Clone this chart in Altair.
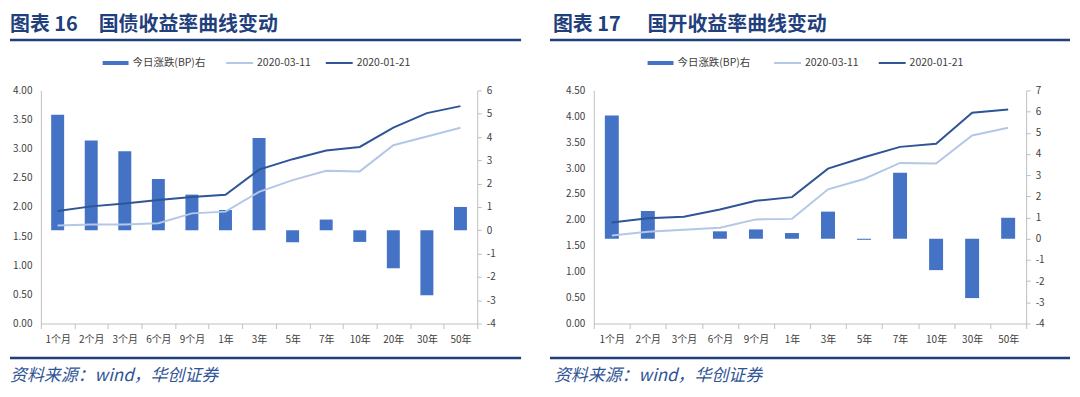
import altair as alt
import pandas as pd

# ---------------- data ----------------
cats1 = ["1个月", "2个月", "3个月", "6个月", "9个月", "1年", "3年", "5年", "7年", "10年", "20年", "30年", "50年"]
chg1 = [4.96, 3.85, 3.39, 2.20, 1.53, 0.87, 3.96, -0.51, 0.46, -0.50, -1.63, -2.79, 1.00]
y0311_1 = [1.68, 1.70, 1.70, 1.72, 1.89, 1.92, 2.26, 2.46, 2.62, 2.61, 3.06, 3.21, 3.36]
y0121_1 = [1.93, 2.01, 2.06, 2.12, 2.17, 2.21, 2.64, 2.82, 2.97, 3.03, 3.36, 3.61, 3.73]

cats2 = ["1个月", "2个月", "3个月", "6个月", "9个月", "1年", "3年", "5年", "7年", "10年", "30年", "50年"]
chg2 = [5.82, 1.31, 0.0, 0.35, 0.44, 0.27, 1.28, -0.05, 3.12, -1.48, -2.80, 0.99]
y0311_2 = [1.70, 1.77, 1.81, 1.85, 2.01, 2.02, 2.59, 2.79, 3.10, 3.09, 3.63, 3.78]
y0121_2 = [1.95, 2.03, 2.06, 2.20, 2.37, 2.44, 2.99, 3.21, 3.41, 3.47, 4.07, 4.13]

left_ticks1 = [0, 0.5, 1, 1.5, 2, 2.5, 3, 3.5, 4]
right_ticks1 = [-4, -3, -2, -1, 0, 1, 2, 3, 4, 5, 6]
left_ticks2 = [0, 0.5, 1, 1.5, 2, 2.5, 3, 3.5, 4, 4.5]
right_ticks2 = [-4, -3, -2, -1, 0, 1, 2, 3, 4, 5, 6, 7]

series_names = ["今日涨跌(BP)右", "2020-03-11", "2020-01-21"]
source_text = "资料来源：wind，华创证券"

FONT = "Noto Sans CJK SC"
BAR = "#4472C4"
DARK = "#2F5597"
LIGHT = "#B4C7E7"
NAVY = "#1F3F7D"
LBL = "#404040"
AXC = "#BFBFBF"

one = pd.DataFrame({"a": [0]})


def deco_text(txt, x, y, size, color, weight="normal", style="normal"):
    return alt.Chart(one).mark_text(
        text=txt, font=FONT, fontSize=size, fontWeight=weight, fontStyle=style,
        color=color, align="left", baseline="middle"
    ).encode(x=alt.value(x), y=alt.value(y))


def deco_rule(x1, x2, y, color, width):
    return alt.Chart(one).mark_rule(color=color, strokeWidth=width).encode(
        x=alt.value(x1), x2=alt.value(x2), y=alt.value(y))


def panel(cats, chg, s0311, s0121, ldom, lticks, rdom, rticks, W, barw,
          t_no, t_no_x, t_txt, t_txt_x, rule_x1, rule_x2, leg, src_x):
    n = len(cats)
    bars_df = pd.DataFrame({"cat": cats, "chg": chg})
    lines_df = pd.DataFrame({
        "cat": cats + cats,
        "series": [series_names[1]] * n + [series_names[2]] * n,
        "v": s0311 + s0121,
    })
    xenc = alt.X("cat:N", sort=cats, title=None,
                 scale=alt.Scale(paddingInner=0, paddingOuter=0),
                 axis=alt.Axis(labelAngle=0, tickBand="extent", tickSize=5,
                               labelPadding=6, labelFont=FONT, labelFontSize=10,
                               labelColor=LBL, domainColor=AXC, tickColor=AXC,
                               grid=False))
    bars = alt.Chart(bars_df).mark_bar(size=barw, color=BAR).encode(
        x=xenc,
        y=alt.Y("chg:Q", title=None,
                scale=alt.Scale(domain=rdom, nice=False, zero=False),
                axis=alt.Axis(orient="right", values=rticks,
                              labelExpr="'' + datum.value",
                              tickSize=4, labelPadding=5, labelFont=FONT,
                              labelFontSize=10, labelColor=LBL, domainColor=AXC,
                              tickColor=AXC, grid=False)),
    )
    lines = alt.Chart(lines_df).mark_line(strokeWidth=2).encode(
        x=xenc,
        y=alt.Y("v:Q", title=None,
                scale=alt.Scale(domain=ldom, nice=False),
                axis=alt.Axis(orient="left", values=lticks, format=".2f",
                              ticks=False, labelPadding=9, labelFont=FONT,
                              labelFontSize=10, labelColor=LBL, domainColor=AXC,
                              grid=False)),
        color=alt.Color("series:N",
                        scale=alt.Scale(domain=series_names[1:], range=[LIGHT, DARK]),
                        legend=None),
    )
    decos = [
        # invisible anchor for top/left bounds
        deco_rule(rule_x1, rule_x1 + 1, -81.5, "#FFFFFF", 1),
        deco_text(t_no, t_no_x, -66, 20, NAVY, weight="bold"),
        deco_text(t_txt, t_txt_x, -66, 20, NAVY, weight="bold"),
        deco_rule(rule_x1, rule_x2, -50.5, NAVY, 2.5),
        # legend
        deco_rule(leg[0], leg[0] + 26, -27.5, BAR, 4),
        deco_text(series_names[0], leg[0] + 30, -27.5, 10.5, LBL),
        deco_rule(leg[1], leg[1] + 27, -27.5, LIGHT, 2),
        deco_text(series_names[1], leg[1] + 31, -27.5, 10.5, LBL),
        deco_rule(leg[2], leg[2] + 27, -27.5, DARK, 2),
        deco_text(series_names[2], leg[2] + 31, -27.5, 10.5, LBL),
        # bottom rule and source
        deco_rule(rule_x1, rule_x2, 268.5, NAVY, 2.5),
        deco_text(source_text, src_x, 286.5, 17, "#2F5597", style="italic"),
    ]
    return alt.layer(bars, lines, *decos).resolve_scale(y="independent").properties(
        width=W, height=234)


p1 = panel(cats1, chg1, y0311_1, y0121_1, [0, 4], left_ticks1, [-4, 6], right_ticks1,
           438, 13, "图表 16", -31, "国债收益率曲线变动", 58, -31, 482,
           [62, 186, 286], -31)
p2 = panel(cats2, chg2, y0311_2, y0121_2, [0, 4.5], left_ticks2, [-4, 7], right_ticks2,
           434, 14, "图表 17", -41, "国开收益率曲线变动", 54, -44, 478,
           [54, 181, 286], -40)

chart = alt.hconcat(p1, p2, spacing=25).properties(padding=0).configure_view(stroke=None)

chart.save("out.html", embed_options={"renderer": "svg", "actions": False})
